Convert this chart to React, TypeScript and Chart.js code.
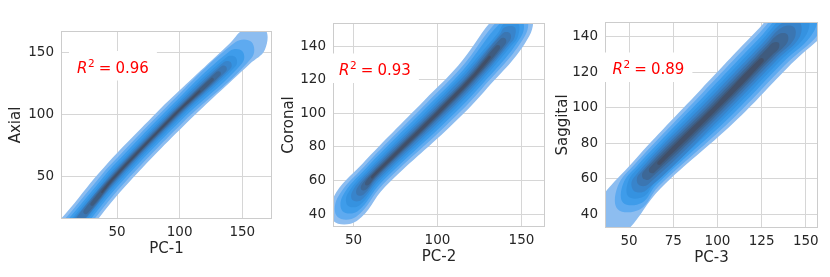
import React, { useEffect, useRef } from 'react';
import { Chart, registerables } from 'chart.js';

Chart.register(...registerables);

const FONT = '"DejaVu Sans", "Liberation Sans", sans-serif';
const TEXT_COLOR = '#262626';
const GRID_COLOR = '#d6d6d6';
const FRAME_COLOR = '#cccccc';
// contour fill colours, outermost level first
const LEVEL_COLORS = ['#8dbdf0', '#5eaaf0', '#3e9cea', '#3592e0', '#3884cb', '#3b76b2', '#3d6897', '#3f5b7e', '#414f68'];

// ---------------- Panel 1 : PC-1 vs Axial ----------------
const P1_X_TITLE = 'PC-1';
const P1_Y_TITLE = 'Axial';
const P1_R2 = '0.96';
const P1_X_LIMITS = [5.3, 173.7];
const P1_Y_LIMITS = [16.3, 167.1];
const P1_X_TICKS = [50, 100, 150];
const P1_Y_TICKS = [50, 100, 150];
// density ridge (x, y) and relative spread of the contours along it
const P1_RIDGE = [[-10, -20], [20, 16], [48, 50], [96, 100], [148, 149], [170, 170]];
const P1_RIDGE_SPREAD = [1, 1, 1, 1, 1, 1];
// each contour level: lower end, upper end (x on the ridge), horizontal half width
const P1_LEVEL_LO = [-10, -5, 0, 12, 16, 20, 25, 30, 38];
const P1_LEVEL_HI = [160, 151, 145, 141, 138, 135, 131, 126, 116];
const P1_LEVEL_HALF_WIDTH = [16.2, 12.8, 9.8, 7.2, 5.3, 3.9, 2.8, 1.9, 1.0];

// ---------------- Panel 2 : PC-2 vs Coronal ----------------
const P2_X_TITLE = 'PC-2';
const P2_Y_TITLE = 'Coronal';
const P2_R2 = '0.93';
const P2_X_LIMITS = [37.8, 164];
const P2_Y_LIMITS = [32.3, 153.7];
const P2_X_TICKS = [50, 100, 150];
const P2_Y_TICKS = [40, 60, 80, 100, 120, 140];
const P2_RIDGE = [[30, 27], [47, 45], [62, 63], [100, 100], [120, 120.5], [140, 144], [155, 165]];
const P2_RIDGE_SPREAD = [0.9, 0.9, 0.88, 1.0, 1.0, 1.0, 1.0];
const P2_LEVEL_LO = [45, 46, 48, 50, 52, 54, 56, 58, 61];
const P2_LEVEL_HI = [147, 146, 145, 144, 143, 141, 139, 136, 131];
const P2_LEVEL_HALF_WIDTH = [15.5, 12.4, 10.0, 7.8, 5.9, 4.3, 3.0, 2.0, 1.1];

// ---------------- Panel 3 : PC-3 vs Saggital ----------------
const P3_X_TITLE = 'PC-3';
const P3_Y_TITLE = 'Saggital';
const P3_R2 = '0.89';
const P3_X_LIMITS = [36.4, 156.9];
const P3_Y_LIMITS = [32.3, 148.3];
const P3_X_TICKS = [50, 75, 100, 125, 150];
const P3_Y_TICKS = [40, 60, 80, 100, 120, 140];
const P3_RIDGE = [[25, 22], [45, 43], [60, 62], [100, 101], [130, 132], [160, 162]];
const P3_RIDGE_SPREAD = [0.8, 0.8, 0.82, 1.0, 1.02, 1.02];
const P3_LEVEL_LO = [38, 50, 52, 54, 56, 58, 60, 63, 67];
const P3_LEVEL_HI = [165, 152, 148, 145, 142, 140, 137, 133, 125];
const P3_LEVEL_HALF_WIDTH = [18.7, 15.9, 13.2, 10.8, 8.6, 6.6, 4.8, 3.2, 1.8];

type Pt = { x: number; y: number };

function ridgeAt(ridge: number[][], spread: number[], x: number): number[] {
  let i = 0;
  while (i < ridge.length - 2 && x > ridge[i + 1][0]) i++;
  const [x0, y0] = ridge[i];
  const [x1, y1] = ridge[i + 1];
  const t = (x - x0) / (x1 - x0);
  return [x, y0 + t * (y1 - y0), spread[i] + t * (spread[i + 1] - spread[i])];
}

function contourOutline(ridge: number[][], spread: number[], lo: number, hi: number, hw: number): Pt[] {
  const h = hw / 2;
  const centers: number[][] = [ridgeAt(ridge, spread, lo)];
  ridge.forEach((p, i) => {
    if (p[0] > lo + h && p[0] < hi - h) centers.push([p[0], p[1], spread[i]]);
  });
  centers.push(ridgeAt(ridge, spread, hi));
  const left = centers.map(([x, y, s]) => ({ x: x - h * s, y: y + h * s }));
  const right = centers.map(([x, y, s]) => ({ x: x + h * s, y: y - h * s })).reverse();
  const [ex, ey, es] = centers[centers.length - 1];
  const [sx, sy, ss] = centers[0];
  const ring = [...left, { x: ex + h * es, y: ey + h * es }, ...right, { x: sx - h * ss, y: sy - h * ss }];
  const start = left.length >= 3 ? Math.floor(left.length / 2) : 0;
  const rotated = [...ring.slice(start), ...ring.slice(0, start)];
  rotated.push({ ...rotated[0] });
  return rotated;
}

const framePlugin = {
  id: 'frame',
  afterDatasetsDraw(chart: any) {
    const { ctx, chartArea } = chart;
    const { left, top, right, bottom } = chartArea;
    ctx.save();
    ctx.strokeStyle = FRAME_COLOR;
    ctx.lineWidth = 1;
    ctx.strokeRect(left + 0.5, top + 0.5, right - left - 1, bottom - top - 1);
    ctx.restore();
  },
};

const r2Plugin = {
  id: 'r2label',
  afterDraw(chart: any, _args: any, opts: any) {
    const { ctx, chartArea } = chart;
    const size = 15;
    const x0 = chartArea.left + opts.dx;
    const base = chartArea.top + opts.dy;
    const fMain = `${size}px ${FONT}`;
    const fIt = `italic ${size}px ${FONT}`;
    const fSup = `${size * 0.7}px ${FONT}`;
    ctx.save();
    ctx.font = fIt;
    const wR = ctx.measureText('R').width;
    ctx.font = fSup;
    const w2 = ctx.measureText('2').width;
    ctx.font = fMain;
    const wEq = ctx.measureText('=').width;
    const wV = ctx.measureText(opts.value).width;
    const gap = (size * 5) / 18;
    const total = wR + 0.5 + w2 + gap * 2 + wEq + wV;
    ctx.fillStyle = '#ffffff';
    ctx.fillRect(x0 - 8, base - size * 0.9 - 8, total + 16, size * 0.9 + 16);
    ctx.fillStyle = '#ff0000';
    ctx.textBaseline = 'alphabetic';
    ctx.textAlign = 'left';
    let x = x0;
    ctx.font = fIt;
    ctx.fillText('R', x, base);
    x += wR + 0.5;
    ctx.font = fSup;
    ctx.fillText('2', x, base - size * 0.37);
    x += w2 + gap;
    ctx.font = fMain;
    ctx.fillText('=', x, base);
    x += wEq + gap;
    ctx.fillText(opts.value, x, base);
    ctx.restore();
  },
};

type PanelCfg = {
  left: number;
  width: number;
  area: { l: number; r: number; t: number; b: number };
  xTitle: string;
  yTitle: string;
  r2: string;
  r2dx: number;
  r2dy: number;
  yTitlePad: number;
  xLimits: number[];
  yLimits: number[];
  xTicks: number[];
  yTicks: number[];
  ridge: number[][];
  spread: number[];
  lo: number[];
  hi: number[];
  hw: number[];
};

const H = 277;

const PANELS: PanelCfg[] = [
  {
    left: 0, width: 280, area: { l: 61, r: 272, t: 31, b: 219 },
    xTitle: P1_X_TITLE, yTitle: P1_Y_TITLE, r2: P1_R2, r2dx: 16, r2dy: 41.5, yTitlePad: 7.5,
    xLimits: P1_X_LIMITS, yLimits: P1_Y_LIMITS, xTicks: P1_X_TICKS, yTicks: P1_Y_TICKS,
    ridge: P1_RIDGE, spread: P1_RIDGE_SPREAD, lo: P1_LEVEL_LO, hi: P1_LEVEL_HI, hw: P1_LEVEL_HALF_WIDTH,
  },
  {
    left: 275, width: 280, area: { l: 58, r: 270, t: 23, b: 227 },
    xTitle: P2_X_TITLE, yTitle: P2_Y_TITLE, r2: P2_R2, r2dx: 6, r2dy: 52, yTitlePad: 5,
    xLimits: P2_X_LIMITS, yLimits: P2_Y_LIMITS, xTicks: P2_X_TICKS, yTicks: P2_Y_TICKS,
    ridge: P2_RIDGE, spread: P2_RIDGE_SPREAD, lo: P2_LEVEL_LO, hi: P2_LEVEL_HI, hw: P2_LEVEL_HALF_WIDTH,
  },
  {
    left: 550, width: 280, area: { l: 55, r: 268, t: 22, b: 228 },
    xTitle: P3_X_TITLE, yTitle: P3_Y_TITLE, r2: P3_R2, r2dx: 7.5, r2dy: 52, yTitlePad: 3.7,
    xLimits: P3_X_LIMITS, yLimits: P3_Y_LIMITS, xTicks: P3_X_TICKS, yTicks: P3_Y_TICKS,
    ridge: P3_RIDGE, spread: P3_RIDGE_SPREAD, lo: P3_LEVEL_LO, hi: P3_LEVEL_HI, hw: P3_LEVEL_HALF_WIDTH,
  },
];

function KdePanel({ cfg }: { cfg: PanelCfg }) {
  const ref = useRef<HTMLCanvasElement>(null);
  useEffect(() => {
    if (!ref.current) return;
    const n = cfg.lo.length;
    const datasets = cfg.lo.map((lo, i) => ({
      data: contourOutline(cfg.ridge, cfg.spread, lo, cfg.hi[i], cfg.hw[i]),
      showLine: true,
      fill: 'shape',
      backgroundColor: LEVEL_COLORS[i],
      borderColor: 'rgba(0,0,0,0)',
      borderWidth: 0,
      pointRadius: 0,
      pointHoverRadius: 0,
      tension: 0.4,
      order: n - i,
    }));
    const { l, r, t, b } = cfg.area;
    const tickFont = { family: FONT, size: 13.5 };
    const titleFont = { family: FONT, size: 15 };
    const chart = new Chart(ref.current, {
      type: 'scatter',
      data: { datasets } as any,
      options: {
        responsive: false,
        maintainAspectRatio: false,
        devicePixelRatio: 1,
        animation: false,
        events: [],
        layout: { padding: { left: 0, right: cfg.width - r, top: t, bottom: 0 } },
        elements: { line: { capBezierPoints: false } },
        plugins: {
          legend: { display: false },
          tooltip: { enabled: false },
          r2label: { dx: cfg.r2dx, dy: cfg.r2dy, value: cfg.r2 },
        } as any,
        scales: {
          x: {
            type: 'linear',
            min: cfg.xLimits[0],
            max: cfg.xLimits[1],
            afterBuildTicks: (s: any) => {
              s.ticks = cfg.xTicks.map((v) => ({ value: v }));
            },
            afterFit: (s: any) => {
              s.height = H - b;
              s.paddingLeft = 0;
              s.paddingRight = 0;
            },
            ticks: { padding: 5, font: tickFont, color: TEXT_COLOR, maxRotation: 0 },
            grid: { color: GRID_COLOR, lineWidth: 1, drawTicks: false },
            border: { display: false },
            title: {
              display: true,
              text: cfg.xTitle,
              font: titleFont,
              color: TEXT_COLOR,
              padding: { top: 0, bottom: H - 9 - (b + 30) },
            },
          },
          y: {
            type: 'linear',
            min: cfg.yLimits[0],
            max: cfg.yLimits[1],
            afterBuildTicks: (s: any) => {
              s.ticks = cfg.yTicks.map((v) => ({ value: v }));
            },
            afterFit: (s: any) => {
              s.width = l;
              s.paddingTop = 0;
              s.paddingBottom = 0;
            },
            ticks: { padding: 7, font: tickFont, color: TEXT_COLOR },
            grid: { color: GRID_COLOR, lineWidth: 1, drawTicks: false },
            border: { display: false },
            title: {
              display: true,
              text: cfg.yTitle,
              font: titleFont,
              color: TEXT_COLOR,
              padding: { top: cfg.yTitlePad, bottom: 0 },
            },
          },
        },
      } as any,
      plugins: [framePlugin, r2Plugin] as any,
    });
    return () => chart.destroy();
  }, [cfg]);
  return (
    <div style={{ position: 'absolute', left: cfg.left, top: 0, width: cfg.width, height: H }}>
      <canvas ref={ref} width={cfg.width} height={H} style={{ display: 'block', width: cfg.width, height: H }} />
    </div>
  );
}

export default function App() {
  return (
    <div style={{ position: 'absolute', left: 0, top: 0, width: 830, height: H, background: '#ffffff' }}>
      {PANELS.map((p, i) => (
        <KdePanel key={i} cfg={p} />
      ))}
    </div>
  );
}
